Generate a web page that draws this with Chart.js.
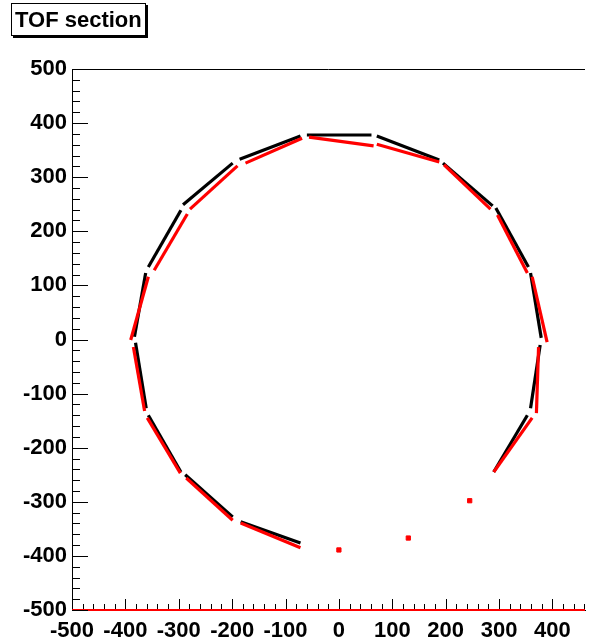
<!DOCTYPE html>
<html>
<head>
<meta charset="utf-8">
<script src="https://cdn.jsdelivr.net/npm/chart.js@4/dist/chart.umd.min.js"></script>
<style>
  body { margin: 0; background: #fff; }
  #wrap { position: relative; width: 590px; height: 641px; }
  #title {
    position: absolute; left: 11px; top: 3px; width: 130px; height: 30px;
    border: 1px solid #000; box-shadow: 2px 2px 0 #000; background: #fff;
    font: bold 22px "Liberation Sans", Arial, sans-serif; line-height: 30px;
    padding: 1px 0 0 3px; white-space: nowrap;
  }
</style>
</head>
<body>
<div id="wrap">
  <canvas id="chart" width="590" height="641"></canvas>
  <div id="title">TOF section</div>
</div>
<script>
// axis ticks
const xTicks = [-500, -400, -300, -200, -100, 0, 100, 200, 300, 400];
const yTicks = [-500, -400, -300, -200, -100, 0, 100, 200, 300, 400, 500];

// TOF sector hits, each [x1, y1, x2, y2]
const blackSegments = [
  [-60, 378, 61, 378],
  [71, 376, 188, 332],
  [195, 326, 288, 247],
  [294, 243, 355, 134],
  [359, 123, 379, 3],
  [377, -10, 359, -127],
  [353, -140, 290, -245],
  [-72, -376, -184, -337],
  [-199, -328, -288, -250],
  [-296, -245, -357, -140],
  [-361, -127, -381, -6],
  [-383, 5, -362, 123],
  [-357, 134, -296, 239],
  [-292, 249, -199, 326],
  [-186, 333, -72, 376]
];
const redSegments = [
  [-56, 374, 65, 358],
  [71, 361, 188, 328],
  [197, 323, 284, 241],
  [297, 230, 353, 123],
  [362, 116, 390, -5],
  [374, -14, 370, -136],
  [362, -145, 290, -245],
  [-72, -385, -184, -339],
  [-199, -334, -286, -256],
  [-297, -247, -359, -145],
  [-364, -132, -385, -14],
  [-390, -1, -357, 116],
  [-346, 128, -284, 232],
  [-279, 241, -190, 321],
  [-175, 326, -69, 372]
];
const redDots = [[245, -298], [130, -367], [0, -389]];
const redUnderflow = [[-500, -500], [461, -500]];

const xMin = -500, xMax = 461, yMin = -500, yMax = 500;
const minorStep = 20;

function segDataset(seg, color, order) {
  return {
    data: [{ x: seg[0], y: seg[1] }, { x: seg[2], y: seg[3] }],
    showLine: true,
    borderColor: color,
    borderWidth: 3.2,
    pointRadius: 0,
    order: order,
    clip: false
  };
}

const datasets = [];
redSegments.forEach(s => datasets.push(segDataset(s, '#ff0000', 0)));
blackSegments.forEach(s => datasets.push(segDataset(s, '#000000', 1)));
datasets.push({
  data: redDots.map(p => ({ x: p[0], y: p[1] })),
  pointStyle: 'rect',
  pointRadius: 3,
  backgroundColor: '#ff0000',
  borderColor: '#ff0000',
  order: 0
});
datasets.push({
  data: redUnderflow.map(p => ({ x: p[0], y: p[1] })),
  showLine: true,
  borderColor: '#ff0000',
  borderWidth: 2,
  pointRadius: 0,
  order: 2,
  clip: false
});

// ROOT-like frame: inside tick marks and the top line
const frameTicks = {
  id: 'frameTicks',
  afterDraw(chart) {
    const { ctx, chartArea, scales } = chart;
    const xs = scales.x, ys = scales.y;
    ctx.save();
    ctx.strokeStyle = '#000';
    ctx.lineWidth = 1;
    ctx.beginPath();
    ctx.moveTo(chartArea.left, chartArea.top + 0.5);
    ctx.lineTo(chartArea.right, chartArea.top + 0.5);
    for (let v = yMin; v <= yMax; v += minorStep) {
      const y = Math.round(ys.getPixelForValue(v)) + 0.5;
      const len = v % 100 === 0 ? 16 : 8;
      ctx.moveTo(chartArea.left, y);
      ctx.lineTo(chartArea.left + len, y);
    }
    for (let v = xMin; v <= xMax; v += minorStep) {
      const x = Math.round(xs.getPixelForValue(v)) + 0.5;
      const len = v % 100 === 0 ? 10 : 5;
      ctx.moveTo(x, chartArea.bottom - 1);
      ctx.lineTo(x, chartArea.bottom - 1 - len);
    }
    ctx.stroke();
    ctx.restore();
  }
};

const tickFont = { family: '"Liberation Sans", Arial, sans-serif', weight: 'bold', size: 22 };

new Chart(document.getElementById('chart'), {
  type: 'scatter',
  data: { datasets: datasets },
  options: {
    responsive: false,
    animation: false,
    layout: { padding: { top: 69, left: 0, right: 0, bottom: 0 } },
    plugins: { legend: { display: false }, tooltip: { enabled: false }, title: { display: false } },
    scales: {
      x: {
        type: 'linear', min: xMin, max: xMax,
        afterBuildTicks: s => { s.ticks = xTicks.map(v => ({ value: v })); },
        afterFit: s => { s.height = 31; },
        grid: { display: false, drawTicks: false, tickLength: 0 },
        border: { display: true, color: '#000', width: 1 },
        ticks: { autoSkip: false, maxRotation: 0, padding: 8, color: '#000', font: tickFont }
      },
      y: {
        type: 'linear', min: yMin, max: yMax,
        afterBuildTicks: s => { s.ticks = yTicks.map(v => ({ value: v })); },
        afterFit: s => { s.width = 72; },
        grid: { display: false, drawTicks: false, tickLength: 0 },
        border: { display: true, color: '#000', width: 1 },
        ticks: { autoSkip: false, padding: 5, color: '#000', font: tickFont }
      }
    }
  },
  plugins: [frameTicks]
});
</script>
</body>
</html>
